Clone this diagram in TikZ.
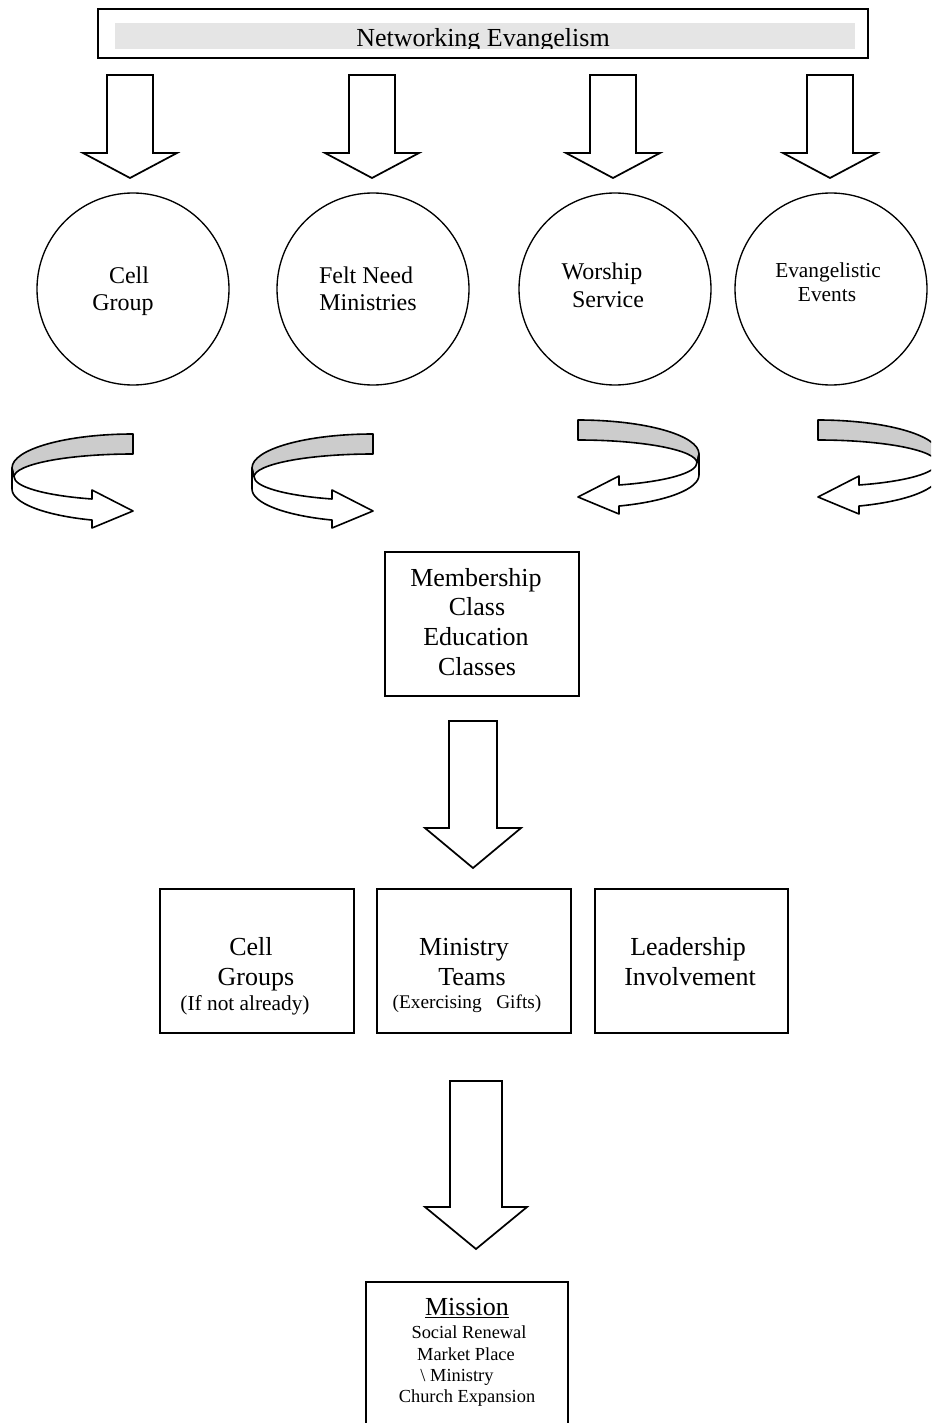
\documentclass[tikz,border=0pt]{standalone}
\usepackage{fontspec}
\setmainfont{Liberation Serif}
\usetikzlibrary{fit}
\tikzset{
  box/.style={draw, line width=1.3pt, inner sep=0pt},
  ring/.style={draw, circle, line width=1pt, minimum size=144pt, inner sep=0pt},
  blk/.style={draw, line width=1.3pt, fill=white, line join=miter},
  band/.style={draw, line width=1.2pt, line join=round},
  txt/.style={anchor=base, inner sep=0pt},
  ftitle/.style={font=\fontsize{19.5}{22}\selectfont},
  fcirc/.style={font=\fontsize{18}{21}\selectfont},
  fevt/.style={font=\fontsize{16}{19}\selectfont},
  fbig/.style={font=\fontsize{19.5}{22}\selectfont},
  fsmall/.style={font=\fontsize{16}{19}\selectfont},
  fsmaller/.style={font=\fontsize{14.5}{17}\selectfont},
  fmis/.style={font=\fontsize{13.8}{16}\selectfont},
}
% block arrow pointing down: centre x, shaft top, head base, tip, shaft half width, head half width
\newcommand\blockdown[6]{\draw[blk] ({#1-#5},#2) -- ({#1+#5},#2) -- ({#1+#5},#3) -- ({#1+#6},#3) -- (#1,#4) -- ({#1-#6},#3) -- ({#1-#5},#3) -- cycle;}
% curved u-turn ribbon arrow (drawn in local coordinates)
\newcommand\uturnarrow{%
  \filldraw[band, fill=gray!40] (133,434) arc[start angle=270, end angle=180, x radius=121, y radius=34]
     -- (14,477) arc[start angle=180, end angle=270, x radius=119, y radius=23] -- cycle;
  \filldraw[band, fill=white] (12,468) -- (12,489)
     arc[start angle=180, end angle=109.8, x radius=121, y radius=33]
     -- (92,528) -- (133,511) -- (92,490) -- (92,499)
     arc[start angle=110.2, end angle=180, x radius=119, y radius=23.5] -- cycle;
}
\begin{document}
\begin{tikzpicture}[x=0.75pt,y=-0.75pt]
\useasboundingbox (0,0) rectangle (931,1423);
\clip (0,0) rectangle (931,1423);

% banner
\node[box, fit={(98,9) (868,58)}] (banner) {};
\fill[gray!20] (115,23) rectangle (855,49);
\begin{scope}
  \clip (115,23) rectangle (855,49);
  \node[txt, ftitle] (bannertext) at (483,46.5) {Networking Evangelism};
\end{scope}

% down arrows from banner
\blockdown{130}{75}{153}{178}{23}{47}
\blockdown{372}{75}{153}{178}{23}{47}
\blockdown{613}{75}{153}{178}{23}{47}
\blockdown{830}{75}{153}{178}{23}{47}

% circles
\node[ring] (c1) at (133,289) {};
\node[ring] (c2) at (373,289) {};
\node[ring] (c3) at (615,289) {};
\node[ring] (c4) at (831,289) {};
\node[txt, fcirc] at (129,283) {Cell};
\node[txt, fcirc] at (123,310) {Group};
\node[txt, fcirc] at (366,283) {Felt Need};
\node[txt, fcirc] at (368,310) {Ministries};
\node[txt, fcirc] at (602,279) {Worship};
\node[txt, fcirc] at (608,307) {Service};
\node[txt, fevt] at (828,277) {Evangelistic};
\node[txt, fevt] at (827,301) {Events};

% curved arrows
\uturnarrow
\begin{scope}[shift={(240,0)}] \uturnarrow \end{scope}
\begin{scope}[shift={(711,-14)}, xscale=-1] \uturnarrow \end{scope}
\begin{scope}[shift={(951,-14)}, xscale=-1] \uturnarrow \end{scope}

% membership box
\node[box, fit={(385,552) (579,696)}] (mem) {};
\node[txt, fbig] at (476,586) {Membership};
\node[txt, fbig] at (477,615) {Class};
\node[txt, fbig] at (476,645) {Education};
\node[txt, fbig] at (477,675) {Classes};

\blockdown{473}{721}{828}{868}{24}{48}

% three boxes
\node[box, fit={(160,889) (354,1033)}] (b1) {};
\node[box, fit={(377,889) (571,1033)}] (b2) {};
\node[box, fit={(595,889) (788,1033)}] (b3) {};
\node[txt, fbig] at (251,955) {Cell};
\node[txt, fbig] at (256,985) {Groups};
\node[txt, fsmall] at (245,1010) {(If not already)};
\node[txt, fbig] at (464,955) {Ministry};
\node[txt, fbig] at (472,985) {Teams};
\node[txt, fsmaller] at (467,1008) {(Exercising\ \ \ Gifts)};
\node[txt, fbig] at (688,955) {Leadership};
\node[txt, fbig] at (690,985) {Involvement};

\blockdown{476}{1081}{1207}{1249}{26}{51}

% mission box
\node[box, fit={(366,1282) (568,1440)}] (mission) {};
\node[txt, fbig] at (467,1315) {\underline{Mission}};
\node[txt, fmis] at (469,1338) {Social Renewal};
\node[txt, fmis] at (466,1360) {Market Place};
\node[txt, fmis] at (457,1381) {\textbackslash{} Ministry};
\node[txt, fmis] at (467,1402) {Church Expansion};
\end{tikzpicture}
\end{document}
